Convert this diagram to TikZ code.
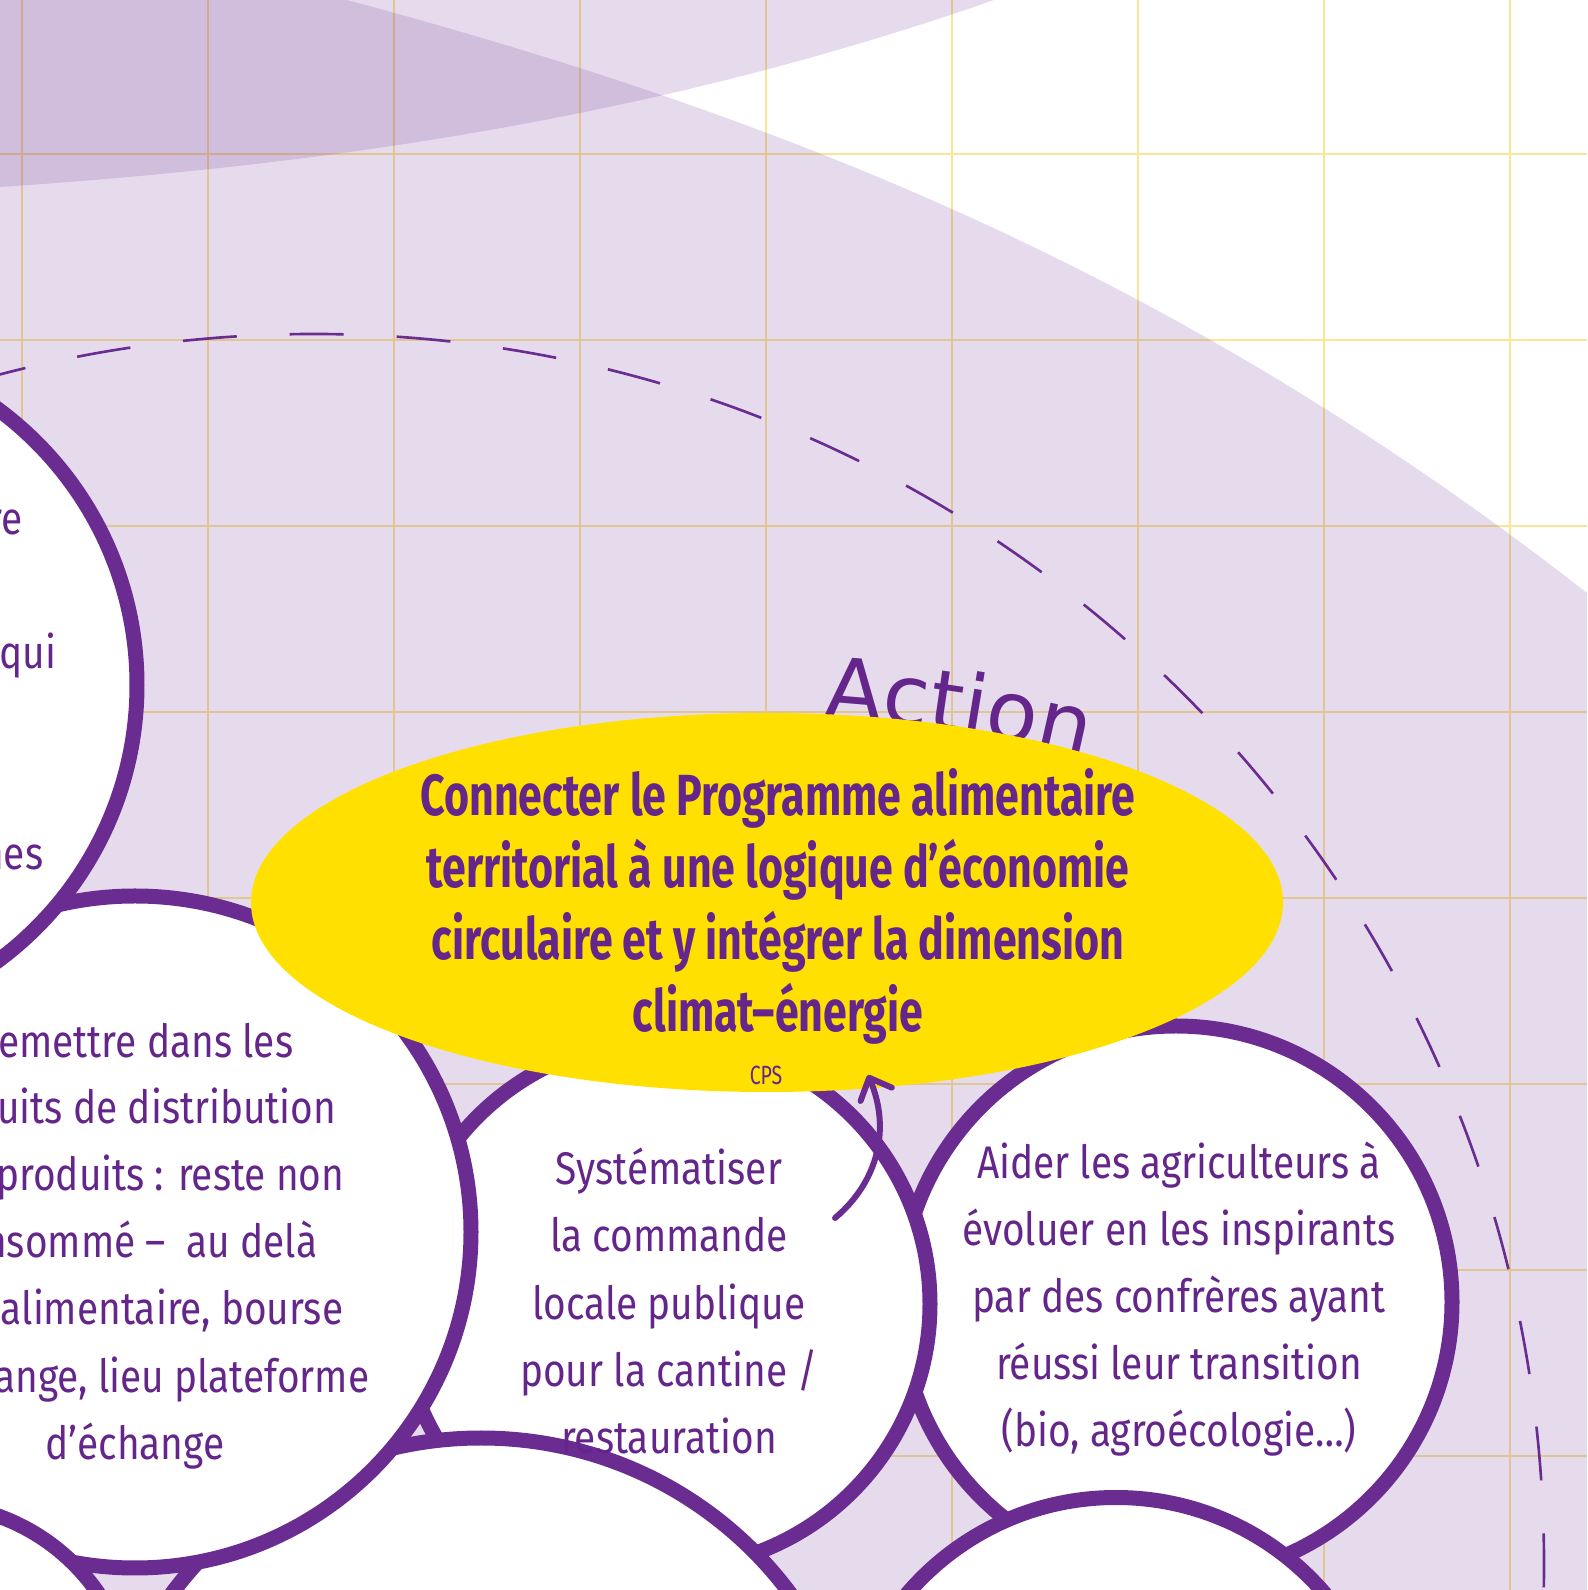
\documentclass[tikz,border=0pt]{standalone}
\usepackage{fontspec}
\setmainfont{Fira Sans}[FakeStretch=0.85]
\newfontfamily\titlefont{Fira Sans}[FakeStretch=0.74]
\newfontfamily\actionfont{DejaVu Sans}
\usetikzlibrary{arrows.meta, decorations.text}

\definecolor{ringpurple}{RGB}{107, 44, 145}
\definecolor{txtpurple}{RGB}{100, 38, 138}
\definecolor{sunyellow}{RGB}{255, 224, 0}
\definecolor{gridyellow}{RGB}{249, 230, 150}

\tikzset{
  bubble/.style={draw=ringpurple, line width=1.5mm, fill=white},
  bubbletext/.style={text=txtpurple, font=\fontsize{13}{19.1}\selectfont, align=center, inner sep=0pt},
  haze/.style={fill=ringpurple, fill opacity=0.17},
  gridline/.style={draw=gridyellow, line width=0.45pt}
}

\begin{document}
\begin{tikzpicture}
  \useasboundingbox (0,0) rectangle (15.87,15.90);
  \fill[white] (0,0) rectangle (15.87,15.90);

  % Grid
  \foreach \gx in {0,...,8}
    \draw[gridline] (0.22+1.86*\gx,0) -- ++(0,15.90);
  \foreach \gy in {0,...,7}
    \draw[gridline] (0,14.36-1.86*\gy) -- ++(15.87,0);

  % Background bands
  \fill[haze] (3.47,15.90) .. controls (7.67,14.77) and (11.67,13.25) .. (15.87,9.97) -- (15.87,0) -- (0,0) -- (0,15.90) -- cycle;
  \fill[haze] (0,14.03) .. controls (3.31,14.25) and (6.63,14.74) .. (9.94,15.90) -- (0,15.90) -- cycle;

  % Dashed ring
  \coordinate (ringc) at (3.14,0.26);
  \draw[ringpurple, line width=0.75pt, dash pattern=on 5.4mm off 5.3mm, dash phase=1.7mm]
    ([shift={(-90:12.30)}]ringc) arc[start angle=-90, end angle=270, radius=12.30];

  % Action label
  \coordinate (actc) at (7.24,-6.55);
  \path[decorate, decoration={text along path, text={|\actionfont\fontsize{24}{28}\selectfont|Action}, text color=txtpurple, text align=center}]
    ([shift={(88:15.3)}]actc) arc[start angle=88, end angle=74.6, radius=15.3];

  % Bubbles, back to front
  \draw[bubble] (11.76,2.88) circle (2.76);
  \draw[bubble] (11.16,-1.82) circle (2.745);
  \draw[bubble] (6.65,2.86) circle (2.65);
  \draw[bubble] (4.81,-2.33) circle (3.85);
  \draw[bubble] (1.35,3.58) circle (3.36);
  \draw[bubble] (-2.06,9.05) circle (3.43);
  \draw[bubble] (-0.71,-1.19) circle (2.05);

  % Goal
  \fill[sunyellow] (7.67,6.875) ellipse[x radius=5.16, y radius=1.895];
  \node[text=txtpurple, align=center, font=\titlefont\bfseries\fontsize{16.5}{20.5}\selectfont] (goal) at (7.78,6.84) {Connecter le Programme alimentaire\\territorial à une logique d’économie\\circulaire et y intégrer la dimension\\climat–énergie};
  \node[text=txtpurple, font=\titlefont\fontsize{7.5}{9}\selectfont] (cps) at (7.66,5.15) {CPS};

  % Top left bubble
  \node[bubbletext, anchor=base east] (c1a) at (0.23,10.55) {re};
  \node[bubbletext, anchor=base east] (c1b) at (0.57,9.21) {qui};
  \node[bubbletext, anchor=base east] (c1c) at (0.44,7.20) {nes};

  % Left bubble
  \foreach \txt/\xr/\yb [count=\i] in {{emettre dans les}/2.94/5.32, {uits de distribution}/3.37/4.66,
      {produits : reste non}/3.45/3.99, {nsommé –~ au delà}/3.18/3.32,
      {alimentaire, bourse}/3.44/2.65, {ange, lieu plateforme}/3.70/1.97}
    \node[bubbletext, anchor=base east] (c2l\i) at (\xr,\yb) {\txt};
  \node[bubbletext, anchor=base] (c2end) at (1.35,1.30) {d’échange};

  % Middle and right bubbles
  \node[bubbletext] (canteen) at (6.69,2.89) {Systématiser\\la commande\\locale publique\\pour la cantine /\\restauration};
  \node[bubbletext] (farmers) at (11.79,2.91) {Aider les agriculteurs à\\évoluer en les inspirants\\par des confrères ayant\\réussi leur transition\\(bio, agroécologie…)};

  % Arrow
  \coordinate (arrfrom) at (8.35,3.72);
  \coordinate (arrto) at (8.68,5.15);
  \draw[ringpurple, line width=0.6mm, line cap=round, -{Straight Barb[length=1.8mm, width=3.4mm, round]}] (arrfrom) to[out=40, in=-67] (arrto);
\end{tikzpicture}
\end{document}
